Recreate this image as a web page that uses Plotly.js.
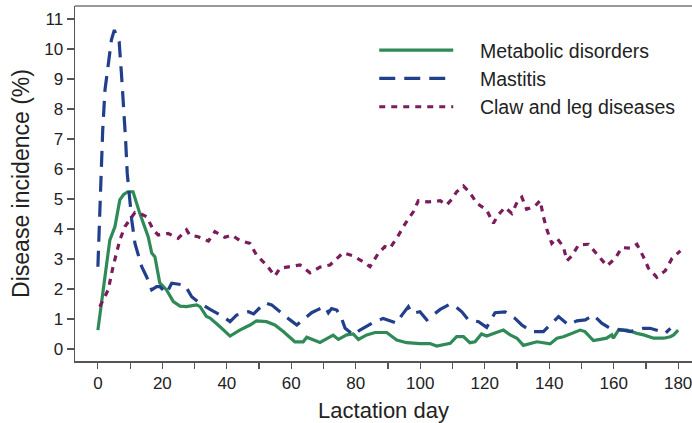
<!DOCTYPE html>
<html>
<head>
<meta charset="utf-8">
<script src="https://cdn.plot.ly/plotly-3.0.1.min.js"></script>
<style>html,body{margin:0;padding:0;background:#fff;}#chart{width:692px;height:423px;}</style>
</head>
<body>
<div id="chart"></div>
<script>
// Metabolic disorders
const metabolicDays = [0,3.7,5.3,6.8,8,9.3,10.9,13,15.6,16.7,17.7,19.2,21.3,23.4,25.5,27.5,30.6,31.7,33.7,34.8,37.9,41,44,47.2,49.2,52.3,54.9,57.5,61.1,63.7,64.8,67.3,68.9,73,74.6,77.2,79.2,80.8,83.4,86,89.6,92.7,95.8,99.9,103,105.1,109.3,111.3,113.4,115.4,117,119,120.6,123.8,125.8,127.9,130,132,134.1,136.2,140.3,142.4,144.4,147.5,149.6,151.1,153.7,155.8,157.8,159.4,159.9,161.5,164.1,167.2,169.3,172.4,175.5,177.6,178.6,180];
const metabolicValues = [0.63,3.63,4.08,4.97,5.15,5.24,5.24,4.52,3.74,3.2,3.07,2.2,1.97,1.58,1.43,1.41,1.47,1.41,1.08,1.03,0.74,0.43,0.63,0.8,0.94,0.91,0.8,0.58,0.24,0.24,0.39,0.28,0.22,0.46,0.32,0.47,0.5,0.32,0.47,0.55,0.55,0.3,0.21,0.18,0.18,0.1,0.19,0.41,0.41,0.21,0.24,0.5,0.43,0.56,0.63,0.47,0.36,0.12,0.19,0.24,0.17,0.36,0.41,0.54,0.63,0.58,0.28,0.32,0.36,0.47,0.36,0.63,0.63,0.52,0.47,0.36,0.36,0.41,0.47,0.63];

// Mastitis
const mastitisDays = [0,0.6,1.0,1.5,2.2,3.2,4.2,5.1,6.6,7.3,8.1,8.6,9.1,9.6,10.5,11.5,13.6,15.1,16.7,18.2,19.2,21.3,22.9,27,29.1,31.7,33.7,34.8,38.9,41,43,46.7,48.3,51.8,53.9,57,59.6,61.7,63.7,66.3,68.4,70.5,71.5,72.5,74.1,75.6,76.7,79.3,81.3,85.4,88.5,92.7,94.3,96.3,97.4,99.9,102,106.2,108.8,110.3,112.9,114.9,118.1,120.6,123.2,126.3,129.4,131.5,134.6,138.2,140.8,142.9,146,148.6,151.2,153.7,156.3,158.9,163,165.1,169.2,171.3,174.9,176,177.6];
const mastitisValues = [2.74,4.6,5.8,7.3,8.63,9.58,10.3,10.63,10.24,9.19,7.97,6.97,5.86,5.2,4.3,3.52,2.74,2.41,1.97,2.08,2.08,1.86,2.19,2.13,1.74,1.52,1.41,1.32,1.08,0.91,1.13,1.24,1.17,1.54,1.47,1.19,0.97,0.8,0.97,1.21,1.32,1.41,1.21,1.35,1.3,1.02,0.69,0.47,0.63,0.88,1.02,0.86,1.13,1.41,1.19,1.24,0.97,1.32,1.47,1.47,1.24,0.97,0.91,0.72,1.21,1.24,1.02,0.8,0.58,0.58,0.86,1.08,0.8,0.94,0.97,1.13,0.86,0.69,0.63,0.58,0.69,0.69,0.58,0.52,0.69];

// Claw and leg diseases
const clawDays = [0.6,3.2,4.7,6.8,8.4,9.9,11.5,13,15.1,17.2,18.7,21.8,24.9,27.5,28.5,31.1,34.3,36.3,39.4,41.5,44.1,47.2,49.2,52.3,54.9,56.5,59.6,62.7,65.8,68.9,72,74.1,76.1,79.2,82.3,84.4,87,89,90.6,93.3,95.3,97.9,99.4,102.5,106.2,108.2,109.8,111.3,113.4,115.4,117.5,120.6,122.7,124.2,126.3,128.4,130.4,131.5,133,135.6,137.2,138.2,139.3,140.8,142.4,144.4,145.5,147,149.1,152.2,155.3,157.9,160.5,162.5,165.1,167.2,169.2,170.8,173.4,176,178.1,180.7];
const clawValues = [1.41,1.97,2.74,3.63,4.08,4.3,4.55,4.52,4.41,3.97,3.8,3.85,3.69,3.97,3.8,3.74,3.6,3.91,3.72,3.8,3.61,3.52,3.13,2.8,2.43,2.69,2.74,2.8,2.54,2.73,2.8,3.02,3.21,3.1,2.91,2.74,3.19,3.41,3.36,3.8,4.17,4.58,4.94,4.9,4.94,4.8,4.99,5.24,5.43,5.21,4.86,4.63,4.19,4.47,4.72,4.52,4.97,5.06,4.66,4.76,4.95,4.41,3.97,3.52,3.69,3.41,2.94,3.1,3.47,3.49,3.1,2.77,3.02,3.38,3.36,3.49,3.08,2.69,2.39,2.61,3.02,3.27];

const seriesNames = ['Metabolic disorders','Mastitis','Claw and leg diseases'];
const xTickVals = [0,20,40,60,80,100,120,140,160,180];
const yTickVals = [0,1,2,3,4,5,6,7,8,9,10,11];

const FONT = 'Liberation Sans, Arial, sans-serif';
const PAD = '\u00a0\u00a0\u00a0\u00a0';

const traces = [
  {x: metabolicDays, y: metabolicValues, name: PAD + seriesNames[0], mode: 'lines',
   line: {color: '#2f8a58', width: 3.2}},
  {x: mastitisDays, y: mastitisValues, name: PAD + seriesNames[1], mode: 'lines',
   line: {color: '#213f8b', width: 3.2, dash: '16px,9px'}},
  {x: clawDays, y: clawValues, name: PAD + seriesNames[2], mode: 'lines',
   line: {color: '#7b1c5c', width: 3.2, dash: '6px,6px'}}
];

const layout = {
  width: 692, height: 423,
  margin: {l: 75, r: 0, t: 6, b: 62},
  paper_bgcolor: '#fff', plot_bgcolor: '#fff',
  font: {family: FONT, color: '#222', size: 17},
  showlegend: true,
  legend: {x: 0.485, y: 0.93, xanchor: 'left', yanchor: 'top', bgcolor: 'rgba(0,0,0,0)',
           font: {size: 19.5, family: FONT, color: '#222'}, itemwidth: 74, tracegroupgap: 0},
  xaxis: {range: [-7.1, 184.3], tickvals: xTickVals, showline: true, linecolor: '#555', linewidth: 1.5,
          ticks: 'outside', ticklen: 6, tickcolor: '#555', tickwidth: 1.2, ticklabeloverflow: 'allow',
          minor: {dtick: 10, tick0: 0, ticks: 'outside', ticklen: 6, tickcolor: '#555', tickwidth: 1.2, showgrid: false},
          showgrid: false, zeroline: false, tickfont: {size: 17},
          title: {text: 'Lactation day', font: {size: 22}, standoff: 10}},
  yaxis: {range: [-0.4, 11.43], tickvals: yTickVals, showline: true, linecolor: '#555', linewidth: 1.5,
          ticks: 'outside', ticklen: 7, tickcolor: '#555', tickwidth: 1.2,
          showgrid: false, zeroline: false, tickfont: {size: 17},
          title: {text: 'Disease incidence (%)', font: {size: 23}, standoff: 8}},
  shapes: [{type: 'line', xref: 'paper', yref: 'paper', x0: 0, x1: 1, y0: 1, y1: 1,
            line: {color: '#999', width: 2}}]
};

Plotly.newPlot('chart', traces, layout, {displayModeBar: false, staticPlot: true});
</script>
</body>
</html>
